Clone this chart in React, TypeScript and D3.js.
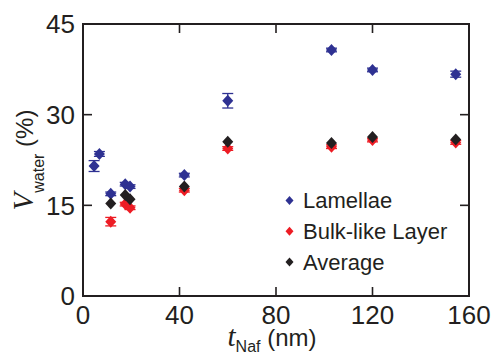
import React from "react";
import * as d3 from "d3";

// Film thickness (nm) and water volume fraction (%) per series
const lamellaeT = [4.6, 6.8, 11.5, 17.5, 19.5, 42, 60, 103, 120, 154.5];
const lamellaeV = [21.5, 23.5, 16.9, 18.5, 18.1, 20.0, 32.3, 40.7, 37.4, 36.7];
const lamellaeErr = [0.9, 0.4, 0.3, 0.3, 0.3, 0.3, 1.2, 0.3, 0.3, 0.5];

const bulkT = [11.5, 17.5, 19.5, 42, 60, 103, 120, 154.5];
const bulkV = [12.3, 15.2, 14.6, 17.5, 24.4, 24.7, 25.8, 25.4];
const bulkErr = [0.7, 0.3, 0.3, 0.3, 0.3, 0.3, 0.3, 0.3];

const averageT = [11.5, 17.5, 19.5, 42, 60, 103, 120, 154.5];
const averageV = [15.3, 16.7, 16.0, 18.1, 25.5, 25.3, 26.3, 25.9];

const xTicks = [0, 40, 80, 120, 160];
const yTicks = [0, 15, 30, 45];

const legendLabels = ["Lamellae", "Bulk-like Layer", "Average"];

const BLUE = "#2e3192";
const RED = "#ed1c24";
const BLACK = "#231f20";
const SANS = "'Liberation Sans', Arial, Helvetica, sans-serif";
const SERIF = "'Liberation Serif', 'Times New Roman', serif";

const W = 494;
const H = 354;
const plot = { left: 83, right: 469, top: 24, bottom: 296 };

const x = d3.scaleLinear().domain([0, 160]).range([plot.left, plot.right]);
const y = d3.scaleLinear().domain([0, 45]).range([plot.bottom, plot.top]);

function diamond(cx: number, cy: number, hw: number, hh: number) {
  return `M${cx},${cy - hh}L${cx + hw},${cy}L${cx},${cy + hh}L${cx - hw},${cy}Z`;
}

type SeriesProps = {
  ts: number[];
  vs: number[];
  errs?: number[];
  color: string;
};

function Series({ ts, vs, errs, color }: SeriesProps) {
  return (
    <g>
      {ts.map((t, i) => {
        const cx = x(t);
        const cy = y(vs[i]);
        const e = errs ? errs[i] : 0;
        const y1 = y(vs[i] + e);
        const y2 = y(vs[i] - e);
        return (
          <g key={i}>
            {e > 0 && (
              <g stroke={color} strokeWidth={1.3}>
                <line x1={cx} x2={cx} y1={y1} y2={y2} />
                <line x1={cx - 5.5} x2={cx + 5.5} y1={y1} y2={y1} />
                <line x1={cx - 5.5} x2={cx + 5.5} y1={y2} y2={y2} />
              </g>
            )}
            <path d={diamond(cx, cy, 5.5, 6)} fill={color} />
          </g>
        );
      })}
    </g>
  );
}

export default function App() {
  const legendColors = [BLUE, RED, BLACK];
  return (
    <svg
      width={W}
      height={H}
      viewBox={`0 0 ${W} ${H}`}
      style={{ position: "absolute", left: 0, top: 0, background: "#fff" }}
    >
      <rect width={W} height={H} fill="#fff" />

      {/* data */}
      <Series ts={lamellaeT} vs={lamellaeV} errs={lamellaeErr} color={BLUE} />
      <Series ts={bulkT} vs={bulkV} errs={bulkErr} color={RED} />
      <Series ts={averageT} vs={averageV} color={BLACK} />

      {/* frame */}
      <rect
        x={plot.left}
        y={plot.top}
        width={plot.right - plot.left}
        height={plot.bottom - plot.top}
        fill="none"
        stroke={BLACK}
        strokeWidth={2}
      />

      {/* inward ticks on all sides */}
      <g stroke={BLACK} strokeWidth={1.6}>
        {xTicks.slice(1, -1).map((t) => (
          <g key={`xt${t}`}>
            <line x1={x(t)} x2={x(t)} y1={plot.bottom} y2={plot.bottom - 9} />
            <line x1={x(t)} x2={x(t)} y1={plot.top} y2={plot.top + 9} />
          </g>
        ))}
        {yTicks.slice(1, -1).map((v) => (
          <g key={`yt${v}`}>
            <line x1={plot.left} x2={plot.left + 9} y1={y(v)} y2={y(v)} />
            <line x1={plot.right} x2={plot.right - 9} y1={y(v)} y2={y(v)} />
          </g>
        ))}
      </g>

      {/* tick labels */}
      <g fontFamily={SANS} fontSize={26} fill={BLACK}>
        {xTicks.map((t) => (
          <text key={`xl${t}`} x={x(t)} y={324} textAnchor="middle">
            {t}
          </text>
        ))}
        {yTicks.map((v) => (
          <text key={`yl${v}`} x={75} y={y(v) + 9.3} textAnchor="end">
            {v}
          </text>
        ))}
      </g>

      {/* axis titles */}
      <text
        transform={`translate(33,160) rotate(-90)`}
        textAnchor="middle"
        fill={BLACK}
        fontFamily={SANS}
        fontSize={24}
      >
        <tspan fontFamily={SERIF} fontStyle="italic" fontSize={29}>
          V
        </tspan>
        <tspan fontSize={16} dy={11}>
          water
        </tspan>
        <tspan dy={-11}> (%)</tspan>
      </text>
      <text
        x={272}
        y={346}
        textAnchor="middle"
        fill={BLACK}
        fontFamily={SANS}
        fontSize={24}
      >
        <tspan fontFamily={SERIF} fontStyle="italic" fontSize={29}>
          t
        </tspan>
        <tspan fontSize={16} dy={6}>
          Naf
        </tspan>
        <tspan dy={-6}> (nm)</tspan>
      </text>

      {/* legend */}
      <g fontFamily={SANS} fontSize={22} fill={BLACK}>
        {legendLabels.map((label, i) => {
          const cy = 200.5 + i * 30.8;
          return (
            <g key={label}>
              <path d={diamond(289.5, cy, 4, 4.5)} fill={legendColors[i]} />
              <text x={303} y={cy + 7.5}>
                {label}
              </text>
            </g>
          );
        })}
      </g>
    </svg>
  );
}
